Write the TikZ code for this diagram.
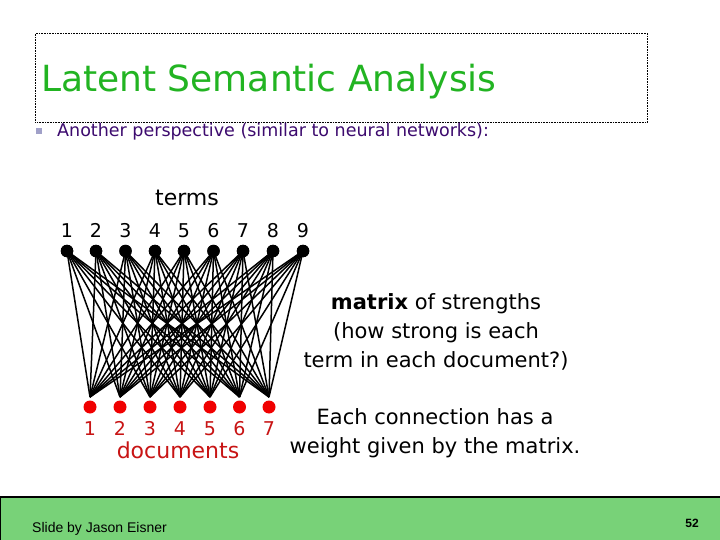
\documentclass[tikz,border=0pt]{standalone}
\usepackage{fontspec}
\setmainfont{DejaVu Sans}
\newfontfamily\arialfont{Liberation Sans}
\definecolor{titlegreen}{RGB}{34,180,34}
\definecolor{subpurple}{RGB}{60,10,110}
\definecolor{docred}{RGB}{200,20,20}
\definecolor{dotred}{RGB}{240,0,0}
\definecolor{footgreen}{RGB}{120,210,120}
\definecolor{bulletgray}{RGB}{160,160,200}
\begin{document}
\begin{tikzpicture}[x=1pt,y=-1pt,
  termdot/.style={circle,fill=black,inner sep=0pt,minimum size=12.5pt},
  docdot/.style={circle,fill=dotred,inner sep=0pt,minimum size=13pt},
  numlbl/.style={inner sep=0pt,anchor=base,font=\fontsize{19}{19}\selectfont},
  edge/.style={line width=1.5pt},
  bigtext/.style={align=center,inner sep=0pt,font=\fontsize{21}{29}\selectfont}]
\useasboundingbox (0,0) rectangle (720,540);
\fill[white] (0,0) rectangle (720,540);
% title box
\node[draw,densely dotted,line width=0.6pt,minimum width=612pt,minimum height=89pt,inner sep=0pt,anchor=north west] (titlebox) at (35,33) {};
\node[anchor=base west,inner sep=0pt,text=titlegreen,font=\fontsize{36}{36}\selectfont] (title) at (41,92) {Latent Semantic Analysis};
% bullet
\node[fill=bulletgray,minimum size=6.5pt,inner sep=0pt] (bullet) at (39,131) {};
\node[anchor=base west,inner sep=0pt,text=subpurple,font=\fontsize{17.5}{17.5}\selectfont] (sub) at (57,137) {Another perspective (similar to neural networks):};
% terms
\node[inner sep=0pt,anchor=base,font=\fontsize{22}{22}\selectfont] (terms) at (187,206) {terms};
\foreach \i/\x in {1/67,2/96,3/125.5,4/155,5/184,6/213.5,7/243,8/273,9/303}{
  \node[termdot] (t\i) at (\x,251) {};
  \node[numlbl] (tl\i) at (\x,237) {\i};
}
\foreach \j/\x in {1/90,2/120,3/150,4/180,5/210,6/239.5,7/269}{
  \node[docdot] (b\j) at (\x,407) {};
  \coordinate (bc\j) at (\x,397);
  \node[numlbl,text=docred] (bl\j) at (\x,435) {\j};
}
\foreach \i in {1,...,9}{
  \foreach \j in {1,...,7}{
    \draw[edge] (t\i.center) -- (bc\j);
  }
}
\foreach \i in {1,...,9}{\node[termdot] at (t\i) {};}
\node[inner sep=0pt,anchor=base,text=docred,font=\fontsize{22}{22}\selectfont] (docs) at (178,458) {documents};
% right texts
\node[bigtext] (matrix) at (436,332) {\textbf{matrix} of strengths\\(how strong is each\\term in each document?)};
\node[bigtext] (conn) at (435,433) {Each connection has a\\weight given by the matrix.};
% footer
\fill[footgreen] (0,497) rectangle (720,540);
\draw[line width=1.2pt] (0,540) -- (0,497) -- (720,497);
\node[anchor=base west,inner sep=0pt,font=\arialfont\fontsize{14}{14}\selectfont] (credit) at (32,532) {Slide by Jason Eisner};
\node[inner sep=0pt,anchor=base,font=\arialfont\bfseries\fontsize{12}{12}\selectfont] (page) at (692,527) {52};
\end{tikzpicture}
\end{document}
